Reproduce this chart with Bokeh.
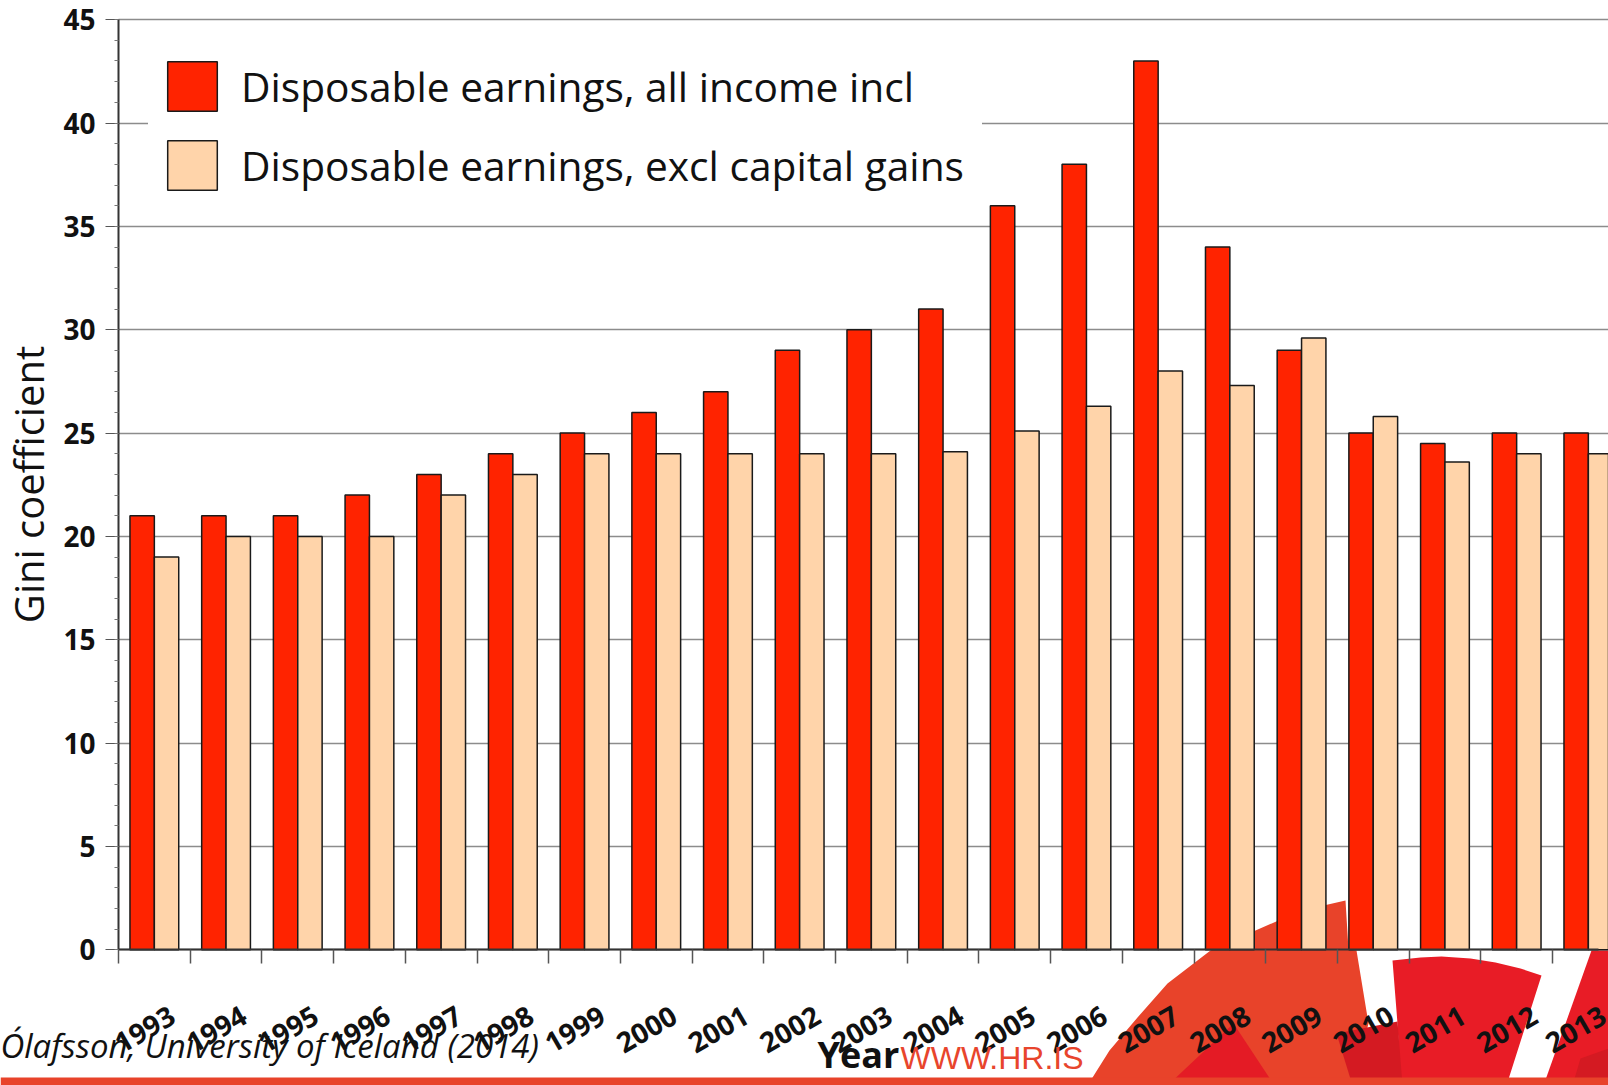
import math
from bokeh.plotting import figure
from bokeh.models import (Range1d, FixedTicker, Legend, LegendItem, Label,
                          PolyAnnotation, BoxAnnotation, ColumnDataSource)
from bokeh.embed import file_html
from bokeh.resources import INLINE

# ---------------- data ----------------
years = [str(y) for y in range(1993, 2014)]
all_income = [21, 21, 21, 22, 23, 24, 25, 26, 27, 29, 30, 31, 36, 38, 43, 34, 29, 25, 24.5, 25, 25]
excl_capital_gains = [19, 20, 20, 20, 22, 23, 24, 24, 24, 24, 24, 24.1, 25.1, 26.3, 28, 27.3, 29.6, 25.8, 23.6, 24, 24]
y_ticks = [0, 5, 10, 15, 20, 25, 30, 35, 40, 45]
series_names = ["Disposable earnings, all income incl", "Disposable earnings, excl capital gains"]

RED = "#FF2300"
BEIGE = "#FFD4AA"
OUTLINE = "#1a1a1a"

STEP = 10          # width of one year slot in x units
idx = list(range(len(years)))
src = ColumnDataSource(dict(
    x_all=[i * STEP + 3.3 for i in idx],
    x_excl=[i * STEP + 6.7 for i in idx],
    all_income=all_income,
    excl=excl_capital_gains,
    year=years,
))

# ---------------- canvas geometry ----------------
W, H = 1608, 1085
AX_X, AX_Y = 118.0, 949.3        # pixel position of the axes' origin
SLOT_PX, UNIT_PX = 71.7, 20.67   # pixels per year slot / per Gini point
x0 = -AX_X / SLOT_PX * STEP
x1 = (W - AX_X) / SLOT_PX * STEP
y1 = AX_Y / UNIT_PX
y0 = (AX_Y - H) / UNIT_PX

p = figure(width=W, height=H, output_backend="svg", toolbar_location=None,
           x_range=Range1d(x0, x1), y_range=Range1d(y0, y1),
           min_border=0)
p.outline_line_color = None
p.background_fill_color = "white"
p.border_fill_color = "white"

# ---------------- decoration (slide logo / footer bar, canvas pixels) ----------------
def deco(pts, color):
    p.add_layout(PolyAnnotation(xs=[x for x, _ in pts], ys=[y for _, y in pts],
                                xs_units="canvas", ys_units="canvas",
                                fill_color=color, fill_alpha=1.0, line_color=None,
                                level="underlay"))

deco([(1087, 1085), (1109, 1050), (1137, 1017), (1167, 983), (1210, 950), (1255, 930),
      (1278, 920), (1310, 908), (1345, 900), (1348, 949), (1356, 950), (1368, 1023),
      (1352, 1085)], "#E8432A")
deco([(1167, 1085), (1233, 1023), (1274, 1085)], "#E41B25")
deco([(1392, 960), (1420, 957), (1441, 956), (1470, 958), (1495, 962), (1520, 968),
      (1541, 975), (1506, 1085), (1400, 1085), (1397, 1023)], "#E81C26")
deco([(1336, 1033), (1397, 1021), (1402, 1085), (1352, 1085)], "#D41A22")
deco([(1591, 950), (1608, 950), (1608, 1085), (1543, 1085)], "#E81C26")
deco([(1580, 1058), (1608, 1048), (1608, 1085), (1572, 1085)], "#D41A22")
deco([(0, 1077), (1608, 1077), (1608, 1085), (0, 1085)], "#E8432A")

# ---------------- bars ----------------
r_all = p.vbar(x="x_all", top="all_income", bottom=0, width=3.4, source=src,
               fill_color=RED, line_color=OUTLINE, line_width=1.5)
r_excl = p.vbar(x="x_excl", top="excl", bottom=0, width=3.4, source=src,
                fill_color=BEIGE, line_color=OUTLINE, line_width=1.5)

# ---------------- axes ----------------
xa = p.xaxis[0]
xa.fixed_location = 0
xa.bounds = (0, 206.4)
xa.ticker = FixedTicker(ticks=[i * STEP + 7.5 for i in idx],
                        minor_ticks=[i * STEP for i in range(len(years) + 1)])
xa.major_label_overrides = {i * STEP + 7.5: years[i] for i in idx}
xa.major_label_orientation = math.radians(30)
xa.major_tick_out = 0
xa.major_tick_in = 0
xa.minor_tick_out = 14
xa.minor_tick_in = 0
xa.minor_tick_line_color = "#555555"
xa.minor_tick_line_width = 1.5
xa.axis_line_color = "#333333"
xa.axis_line_width = 2
xa.major_label_standoff = 49
xa.major_label_text_font = "Open Sans"
xa.major_label_text_font_style = "bold"
xa.major_label_text_font_size = "28px"
xa.major_label_text_color = "#111111"
xa.axis_label = "Year"
xa.axis_label_text_font = "Open Sans"
xa.axis_label_text_font_style = "bold"
xa.axis_label_text_font_size = "36px"
xa.axis_label_text_color = "#111111"
xa.axis_label_standoff = -36

ya = p.yaxis[0]
ya.fixed_location = 0
ya.bounds = (0, 45)
ya.ticker = FixedTicker(ticks=y_ticks, minor_ticks=list(range(0, 46)))
ya.major_tick_out = 13
ya.major_tick_in = 0
ya.minor_tick_out = 4
ya.minor_tick_in = 0
ya.major_tick_line_color = "#555555"
ya.minor_tick_line_color = "#777777"
ya.axis_line_color = "#333333"
ya.axis_line_width = 2
ya.major_label_standoff = 10
ya.major_label_text_font = "Open Sans"
ya.major_label_text_font_style = "bold"
ya.major_label_text_font_size = "28px"
ya.major_label_text_color = "#111111"
ya.axis_label = "Gini coefficient"
ya.axis_label_text_font = "Open Sans"
ya.axis_label_text_font_style = "normal"
ya.axis_label_text_font_size = "40px"
ya.axis_label_text_color = "#111111"
ya.axis_label_standoff = 4

p.xgrid.visible = False
p.ygrid.grid_line_color = "#8c8c8c"
p.ygrid.grid_line_width = 1.6
try:
    p.ygrid.cross_bounds = (0, x1)
except Exception:
    p.add_layout(BoxAnnotation(left=0, right=AX_X - 1, top=0, bottom=AX_Y - 2,
                               left_units="canvas", right_units="canvas",
                               top_units="canvas", bottom_units="canvas",
                               fill_color="white", fill_alpha=1.0, line_color=None,
                               level="underlay"))

# ---------------- legend ----------------
legend = Legend(items=[LegendItem(label=series_names[0], renderers=[r_all]),
                       LegendItem(label=series_names[1], renderers=[r_excl])],
                location=(148, H - 209), margin=0, padding=12, spacing=17,
                glyph_width=62, glyph_height=62, label_standoff=18,
                label_width=728,
                label_text_font="Open Sans", label_text_font_size="40.7px",
                label_text_color="#111111",
                background_fill_color="white", background_fill_alpha=1.0,
                border_line_color="white", border_line_alpha=1.0)
p.add_layout(legend)

# ---------------- footer texts ----------------
p.add_layout(Label(x=0, y=1045, x_units="canvas", y_units="canvas",
                   text="Ólafsson, University of Iceland (2014)",
                   text_font="Open Sans", text_font_style="italic",
                   text_font_size="33px", text_color="#111111",
                   text_baseline="alphabetic", text_align="left"))
p.add_layout(Label(x=900, y=1057, x_units="canvas", y_units="canvas",
                   text="WWW.HR.IS", text_font="Liberation Sans",
                   text_font_size="32px", text_color="#E8452C",
                   text_baseline="alphabetic", text_align="left"))

open("out.html", "w").write(file_html(p, INLINE))
